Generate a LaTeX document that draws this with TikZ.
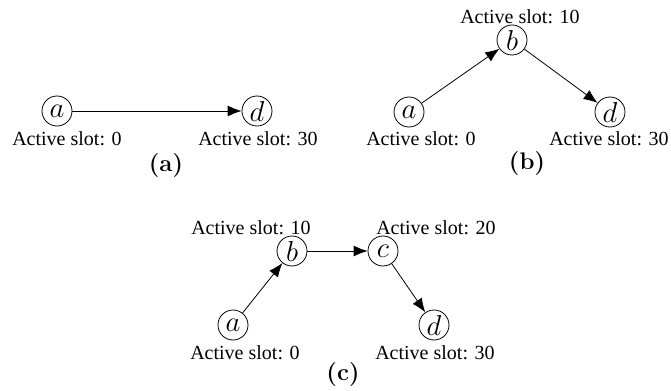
\documentclass[tikz,border=0pt]{standalone}
\usepackage{fontspec}
\setmainfont{Liberation Serif}
\newfontfamily\capfont{Latin Modern Roman}
\usetikzlibrary{arrows.meta}

\begin{document}
\begin{tikzpicture}[x=0.5pt,y=-0.5pt,
		vertex/.style={circle,draw,thin,inner sep=0pt,minimum size=15pt,font=\Large},
		slot/.style={inner sep=0pt,font=\normalsize},
		edge/.style={thin,-{Latex[length=7pt,width=5.5pt]}},
		subcap/.style={inner sep=0pt,font=\capfont\bfseries\large}]
		\useasboundingbox (0,0) rectangle (671,391);
		% (a)
		\node[vertex] (a1) at (57,111) {$a$};
		\node[vertex] (d1) at (257,111) {$d$};
		\node[slot] (la1) at (67,139) {Active slot: 0};
		\node[slot] (ld1) at (258,139) {Active slot: 30};
		\draw[edge] (a1) -- (d1);
		\node[subcap] (capa) at (166,166) {(a)};
		% (b)
		\node[vertex] (a2) at (409,112) {$a$};
		\node[vertex] (b2) at (512,40) {$b$};
		\node[vertex] (d2) at (610,112) {$d$};
		\node[slot] (lb2) at (520,17) {Active slot: 10};
		\node[slot] (la2) at (421,139) {Active slot: 0};
		\node[slot] (ld2) at (609,139) {Active slot: 30};
		\draw[edge] (a2) -- (b2);
		\draw[edge] (b2) -- (d2);
		\node[subcap] (capb) at (527,164) {(b)};
		% (c)
		\node[vertex] (a3) at (233,325) {$a$};
		\node[vertex] (b3) at (292,251) {$b$};
		\node[vertex] (c3) at (383,251) {$c$};
		\node[vertex] (d3) at (434,325) {$d$};
		\node[slot] (lb3) at (251,228) {Active slot: 10};
		\node[slot] (lc3) at (436,228) {Active slot: 20};
		\node[slot] (la3) at (245,353) {Active slot: 0};
		\node[slot] (ld3) at (435,353) {Active slot: 30};
		\draw[edge] (a3) -- (b3);
		\draw[edge] (b3) -- (c3);
		\draw[edge] (c3) -- (d3);
		\node[subcap] (capc) at (343,375) {(c)};
\end{tikzpicture}
\end{document}
